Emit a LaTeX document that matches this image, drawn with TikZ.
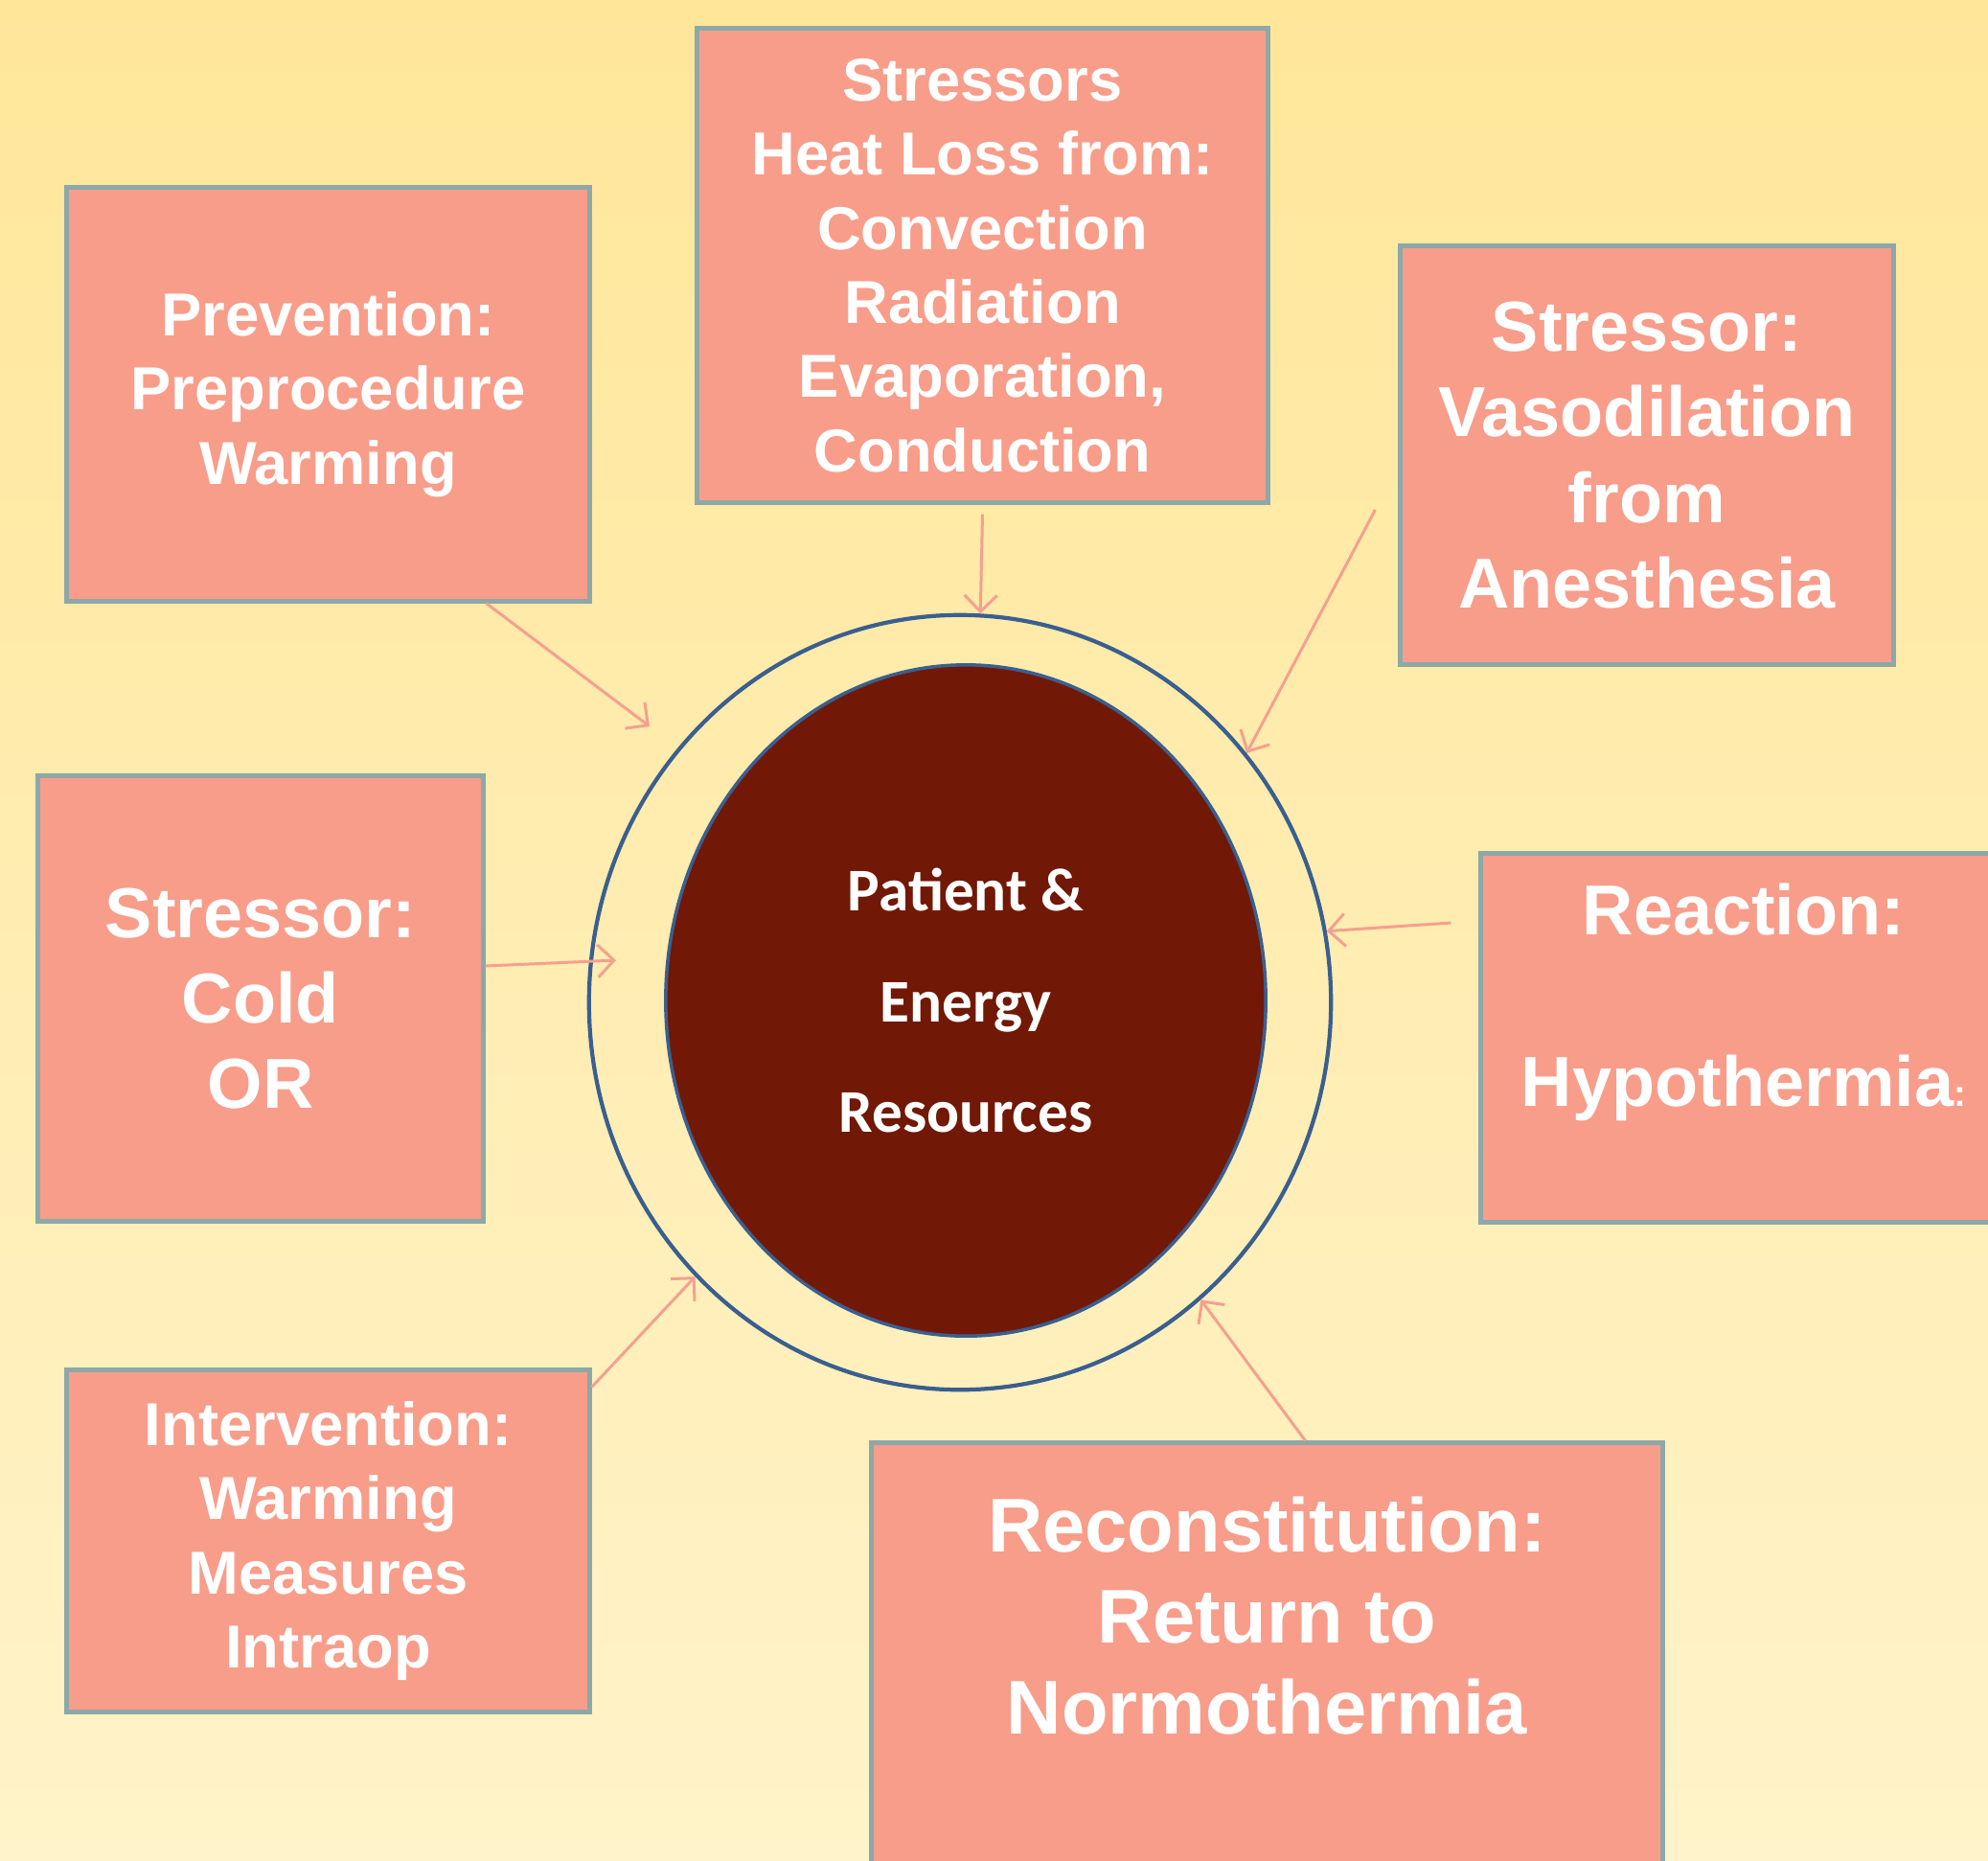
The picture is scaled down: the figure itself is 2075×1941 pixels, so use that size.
\documentclass[tikz,border=0pt]{standalone}
\usepackage{fontspec}
\setmainfont{Liberation Sans}
\newfontfamily\calibrifont{Carlito}
\usepackage{tikz}
\usepackage{xcolor}
\usetikzlibrary{shapes.geometric,arrows.meta,calc}
\definecolor{bgtop}{HTML}{FFE699}
\definecolor{bgbot}{HTML}{FFF3C9}
\definecolor{boxfill}{HTML}{F79D8A}
\definecolor{boxline}{HTML}{8DA8A8}
\definecolor{arrowpink}{HTML}{F5A08E}
\definecolor{ringblue}{HTML}{3A5F8F}
\definecolor{coremaroon}{HTML}{711806}
\tikzset{
    salmon-box/.style = {draw=boxline, fill=boxfill, line width=1.4pt, rectangle, inner sep=0pt, text=white, align=center, font=\bfseries\fontsize{18}{22}\selectfont},
    big-text/.style = {font=\bfseries\fontsize{21}{25.4}\selectfont},
    link-arrow/.style = {draw=arrowpink, line width=0.85pt, -{Straight Barb[length=1.7mm,width=3.4mm]}},
}

\begin{document}
\begin{tikzpicture}[x=0.01cm, y=-0.01cm]
\useasboundingbox (0,0) rectangle (2075,1941);
\clip (0,0) rectangle (2075,1941);
\shade[top color=bgtop, bottom color=bgbot] (0,0) rectangle (2075,1941);

% circles in the middle
\node [ellipse, draw=ringblue, line width=1.2pt, minimum width=7.74cm, minimum height=8.08cm, inner sep=0pt] (ring) at (1002,1046) {};
\node [ellipse, draw=ringblue, fill=coremaroon, line width=1pt, minimum width=6.26cm, minimum height=7cm, inner sep=0pt, text=white, align=center, font=\calibrifont\bfseries\fontsize{18}{32.8}\selectfont] (core) at (1008,1044) {Patient \&\\Energy\\Resources};

% boxes around
\node [salmon-box, minimum width=5.45cm, minimum height=4.31cm] (prev) at (342.5,411.5) {Prevention:\\Preprocedure\\Warming};
\node [salmon-box, minimum width=5.95cm, minimum height=4.94cm] (heat) at (1025.5,277) {Stressors\\Heat Loss from:\\Convection\\Radiation\\Evaporation,\\Conduction};
\node [salmon-box, big-text, minimum width=5.14cm, minimum height=4.36cm] (vaso) at (1719,475) {Stressor:\\Vasodilation\\from\\Anesthesia};
\node [salmon-box, big-text, minimum width=4.64cm, minimum height=4.64cm] (cold) at (272,1042) {Stressor:\\Cold\\OR};
\node [salmon-box, big-text, minimum width=5.48cm, minimum height=3.84cm] (react) at (1820,1083) {Reaction:\\ \\Hypothermia{\fontsize{11}{11}\selectfont :}\\ };
\node [salmon-box, minimum width=5.45cm, minimum height=3.56cm] (interv) at (342.5,1608) {Intervention:\\Warming\\Measures\\Intraop};
\node [salmon-box, font=\bfseries\fontsize{22.6}{27}\selectfont, minimum width=8.25cm, minimum height=4.54cm] (recon) at (1322.5,1733) {Reconstitution:\\Return to\\Normothermia\\ };

% arrows
\coordinate (prev-tip) at (678,758);
\coordinate (cold-tip) at (643,1002);
\draw [link-arrow] ($(prev.south west)!0.8!(prev.south east)$) -- (prev-tip);
\draw [link-arrow] ($(heat.south)+(0,10)$) -- (ring.87);
\draw [link-arrow] ($(vaso.west)+(-24,57)$) -- (ring.41);
\draw [link-arrow] ($(cold.east)+(0,-34)$) -- (cold-tip);
\draw [link-arrow] ($(react.west)+(-29,-120)$) -- (ring.11);
\draw [link-arrow] ($(interv.north east)+(0,20)$) -- (ring.226);
\draw [link-arrow] ($(recon.north)+(40,0)$) -- (ring.-51);
\end{tikzpicture}
\end{document}
